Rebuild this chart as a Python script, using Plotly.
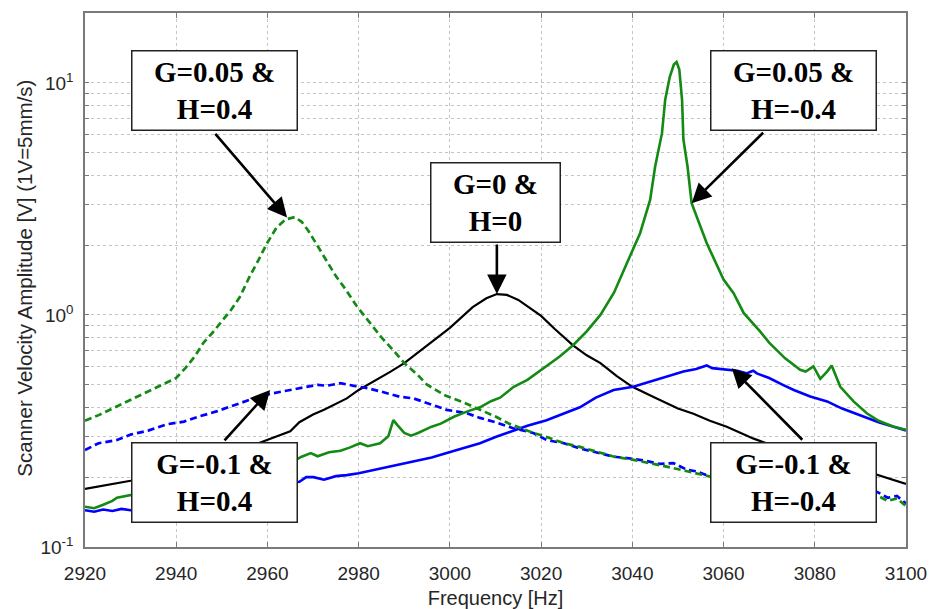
import numpy as np
import plotly.graph_objects as go

# ---------------- data ----------------
# G=0 & H=0 (black, solid)
freq_g0_h0 = [2920, 2925, 2930, 2935, 2940, 2945, 2950, 2955, 2960, 2962.8, 2965, 2967, 2970, 2972.4,
              2975, 2977.4, 2980, 2984, 2987, 2990, 2995, 3000, 3005, 3008, 3010.3, 3012.5, 3015, 3018,
              3020, 3023, 3027, 3030, 3033, 3036.6, 3040, 3045, 3050, 3053.4, 3057, 3060.7, 3063, 3066.6,
              3070, 3075, 3080, 3085, 3090, 3093.6, 3097, 3100]
amp_g0_h0 = [0.178, 0.185, 0.193, 0.203, 0.214, 0.228, 0.245, 0.266, 0.29, 0.305, 0.315, 0.345, 0.372, 0.39,
             0.415, 0.437, 0.475, 0.525, 0.57, 0.62, 0.74, 0.88, 1.08, 1.18, 1.23, 1.22, 1.16, 1.06,
             0.99, 0.87, 0.74, 0.67, 0.62, 0.545, 0.49, 0.44, 0.395, 0.375, 0.35, 0.33, 0.315, 0.293,
             0.277, 0.262, 0.247, 0.232, 0.216, 0.205, 0.195, 0.187]

# G=0.05 & H=-0.4 (green, solid)
freq_g005_hm04 = [2920, 2922, 2924, 2926, 2927, 2929, 2931, 2933, 2935, 2937, 2940, 2942, 2945, 2947,
                  2950, 2952, 2955, 2957, 2960, 2962, 2964,
                  2966, 2967.5, 2969.5, 2971, 2973.5, 2976, 2978, 2980.3, 2982, 2984.7, 2986.5, 2987.6,
                  2988.5, 2990, 2991.5, 2993, 2996, 2998, 3001, 3004, 3006.6, 3009, 3011, 3014, 3017,
                  3020, 3024, 3027, 3030, 3033, 3036, 3038.8, 3041.7, 3043.9, 3045, 3046.5, 3047.2,
                  3048.2, 3049.1, 3049.7, 3050.3, 3050.9, 3051.2, 3052.1, 3053, 3056.3, 3060, 3062.2,
                  3064.4, 3068, 3070, 3073.5, 3076.8, 3078, 3079.7, 3081.2, 3082.7, 3083.7, 3085.6,
                  3088.5, 3091.4, 3094, 3097.3, 3100]
amp_g005_hm04 = [0.149, 0.147, 0.152, 0.158, 0.163, 0.166, 0.168, 0.172, 0.175, 0.174, 0.183, 0.181, 0.192, 0.19,
                 0.2, 0.198, 0.21, 0.207, 0.22, 0.218, 0.232,
                 0.236, 0.245, 0.254, 0.246, 0.256, 0.26, 0.268, 0.28, 0.272, 0.28, 0.3, 0.352,
                 0.335, 0.31, 0.302, 0.31, 0.33, 0.34, 0.365, 0.385, 0.4, 0.425, 0.44, 0.49, 0.525,
                 0.58, 0.66, 0.74, 0.85, 1.0, 1.25, 1.67, 2.25, 3.13, 4.36, 6.07, 8.45,
                 10.6, 12.0, 12.3, 11.4, 8.45, 5.7, 4.36, 3.03, 2.04, 1.42, 1.24,
                 1.02, 0.85, 0.76, 0.65, 0.58, 0.57, 0.6, 0.53, 0.57, 0.606, 0.49,
                 0.424, 0.377, 0.35, 0.33, 0.32]

# G=-0.1 & H=-0.4 (blue, solid)
freq_gm01_hm04 = [2920, 2922, 2924, 2926, 2928, 2930, 2935, 2940, 2945, 2950, 2955, 2960, 2964, 2967,
                  2968.5, 2970.1, 2972.4, 2975, 2977.4, 2980, 2984.7, 2988, 2992, 2996, 2999.3, 3003,
                  3006.6, 3010, 3013.9, 3017, 3021.2, 3025, 3028.5, 3032, 3035.9, 3040.2, 3044.6, 3046.1,
                  3049, 3051.2, 3054, 3056.3, 3057.5, 3060.7, 3063, 3065, 3066.5, 3067.3, 3070, 3073,
                  3075.4, 3079, 3082.7, 3086, 3090, 3094, 3097.3, 3100]
amp_gm01_hm04 = [0.144, 0.142, 0.145, 0.143, 0.146, 0.144, 0.148, 0.153, 0.16, 0.167, 0.175, 0.183, 0.188, 0.191,
                 0.2, 0.2, 0.195, 0.202, 0.204, 0.208, 0.218, 0.225, 0.233, 0.243, 0.254, 0.266,
                 0.28, 0.298, 0.318, 0.333, 0.352, 0.375, 0.4, 0.44, 0.475, 0.49, 0.52, 0.53,
                 0.555, 0.57, 0.585, 0.606, 0.59, 0.58, 0.575, 0.56, 0.575, 0.56, 0.535, 0.5,
                 0.475, 0.445, 0.424, 0.395, 0.37, 0.345, 0.33, 0.318]

# G=0.05 & H=0.4 (green, dashed)
freq_g005_h04 = [2920, 2923, 2926, 2929, 2932, 2935, 2938, 2940, 2942, 2944, 2946, 2948, 2950, 2952,
                 2954, 2956, 2958, 2960, 2962, 2964, 2966, 2967.5, 2969, 2971, 2973, 2975, 2977, 2979.6,
                 2982, 2985, 2988, 2990, 2993, 2995, 2999, 3003, 3006, 3010, 3013, 3015.4, 3018.3,
                 3021.2, 3025, 3028.5, 3032, 3036, 3040, 3044, 3048, 3052, 3055, 3060, 3065, 3070,
                 3075, 3080, 3085, 3090, 3093.6, 3096, 3098, 3100]
amp_g005_h04 = [0.35, 0.37, 0.395, 0.42, 0.45, 0.48, 0.51, 0.535, 0.59, 0.66, 0.76, 0.84, 0.94, 1.05,
                1.2, 1.45, 1.72, 2.05, 2.38, 2.58, 2.64, 2.52, 2.3, 1.98, 1.7, 1.47, 1.3, 1.09,
                0.95, 0.8, 0.69, 0.62, 0.55, 0.5, 0.45, 0.42, 0.395, 0.365, 0.34, 0.325, 0.31,
                0.298, 0.28, 0.27, 0.258, 0.245, 0.238, 0.23, 0.221, 0.212, 0.205, 0.195, 0.188, 0.182,
                0.178, 0.174, 0.17, 0.168, 0.167, 0.158, 0.162, 0.15]

# G=-0.1 & H=0.4 (blue, dashed)
freq_gm01_h04 = [2920, 2923, 2927, 2930, 2934, 2938, 2941.7, 2945, 2949, 2952, 2956, 2960, 2963, 2967,
                 2971, 2973, 2976, 2979, 2982, 2985, 2989, 2992, 2996, 2999.3, 3003.7, 3006.6, 3010,
                 3013.9, 3018.3, 3021.2, 3025, 3028.5, 3032, 3035.9, 3040, 3043, 3046, 3049, 3052,
                 3054, 3056, 3060, 3065, 3070, 3075, 3080, 3085, 3088, 3091, 3093.6, 3096, 3098, 3100]
amp_gm01_h04 = [0.262, 0.28, 0.289, 0.305, 0.318, 0.338, 0.347, 0.365, 0.385, 0.405, 0.43, 0.455, 0.467, 0.485,
                0.5, 0.495, 0.508, 0.495, 0.483, 0.467, 0.444, 0.437, 0.41, 0.39, 0.377, 0.36, 0.345,
                0.325, 0.31, 0.289, 0.28, 0.266, 0.256, 0.245, 0.24, 0.235, 0.228, 0.23, 0.215,
                0.212, 0.205, 0.2, 0.193, 0.188, 0.183, 0.179, 0.176, 0.178, 0.172, 0.173, 0.163, 0.166, 0.154]

# axis ticks
x_tick_vals = [2920, 2940, 2960, 2980, 3000, 3020, 3040, 3060, 3080, 3100]
x_tick_text = ["2920", "2940", "2960", "2980", "3000", "3020", "3040", "3060", "3080", "3100"]
y_decades = [0.1, 1, 10]
y_decade_text = ["10<sup>-1</sup>", "10<sup>0</sup>", "10<sup>1</sup>"]

# annotation labels
label_texts = ["G=0.05 &<br>H=0.4", "G=0 &<br>H=0", "G=0.05 &<br>H=-0.4",
               "G=-0.1 &<br>H=0.4", "G=-0.1 &<br>H=-0.4"]
y_title_text = "Scanner Velocity Amplitude [V] (1V=5mm/s)"
x_title_text = "Frequency [Hz]"

# ---------------- figure ----------------
GREEN = "#138a13"
BLUE = "#0000ff"
SANS = "Liberation Sans, Arial, sans-serif"

fig = go.Figure()
fig.add_trace(go.Scatter(x=freq_g0_h0, y=amp_g0_h0, mode="lines",
                         line=dict(color="black", width=2.2)))
fig.add_trace(go.Scatter(x=freq_gm01_hm04, y=amp_gm01_hm04, mode="lines",
                         line=dict(color=BLUE, width=2.6)))
fig.add_trace(go.Scatter(x=freq_gm01_h04, y=amp_gm01_h04, mode="lines",
                         line=dict(color=BLUE, width=2.7, dash="7px,4px")))
fig.add_trace(go.Scatter(x=freq_g005_h04, y=amp_g005_h04, mode="lines",
                         line=dict(color=GREEN, width=2.7, dash="7px,4px")))
fig.add_trace(go.Scatter(x=freq_g005_hm04, y=amp_g005_hm04, mode="lines",
                         line=dict(color=GREEN, width=2.6)))

# y grid: decades plus 2..9 minor lines
y_grid_vals = []
y_grid_text = []
for d in y_decades:
    for m in range(1, 10):
        v = round(d * m, 6)
        if v > 20:
            break
        y_grid_vals.append(v)
        y_grid_text.append(y_decade_text[y_decades.index(d)] if m == 1 else " ")
y_grid_vals.append(20)
y_grid_text.append(" ")

# label boxes (centre in data units) and arrows (head in data units, tail offset in px)
box_centres = [(2948.5, 9.3), (3010.0, 3.06), (3075.3, 9.3), (2948.5, 0.19), (3075.3, 0.19)]
box_widths = [160, 124, 160, 160, 160]
arrow_heads = [(2964.3, 2.63), (3010.3, 1.23), (3053.0, 3.03), (2960.6, 0.475), (3061.8, 0.589)]
arrow_tails = [(-73, -85), (0, -51), (73, -72), (-47, 52), (72, 73)]

annotations = []
for (hx, hy), (tx, ty) in zip(arrow_heads, arrow_tails):
    annotations.append(dict(x=hx, y=np.log10(hy), xref="x", yref="y", text="",
                            showarrow=True, ax=tx, ay=ty, axref="pixel", ayref="pixel",
                            arrowhead=2, arrowsize=1.5, arrowwidth=2.6, arrowcolor="black",
                            standoff=0, startstandoff=0))
for txt, (cx, cy), w in zip(label_texts, box_centres, box_widths):
    annotations.append(dict(x=cx, y=np.log10(cy), xref="x", yref="y",
                            text="<b>" + txt + "</b>", showarrow=False,
                            font=dict(family="Liberation Serif, Times New Roman, serif", size=29, color="black"),
                            bgcolor="white", bordercolor="#222", borderwidth=1.5, borderpad=2,
                            width=w, height=74, align="center", valign="middle"))
# y-axis title as a rotated annotation (placed like the reference)
annotations.append(dict(x=-0.074, y=0.503, xref="paper", yref="paper", text=y_title_text,
                        textangle=-90, showarrow=False, xanchor="center", yanchor="middle",
                        font=dict(family=SANS, size=20.5, color="#262626")))

axis_font = dict(family=SANS, size=19, color="#262626")

fig.update_layout(
    width=935, height=609,
    margin=dict(l=85, r=29, t=13, b=62, autoexpand=False),
    paper_bgcolor="white", plot_bgcolor="white",
    showlegend=False,
    annotations=annotations,
    xaxis=dict(range=[2920, 3100], tickvals=x_tick_vals, ticktext=x_tick_text, automargin=False,
               showgrid=True, gridcolor="#c4c4c4", griddash="dot", gridwidth=1,
               showline=True, linecolor="#7a7a7a", linewidth=1.5, mirror="ticks",
               ticks="inside", ticklen=5, tickcolor="#7a7a7a",
               tickfont=axis_font, ticklabelstandoff=8, zeroline=False,
               title=dict(text=x_title_text, font=dict(family=SANS, size=20, color="#262626"), standoff=8)),
    yaxis=dict(type="log", range=[-1, np.log10(20)], tickvals=y_grid_vals, ticktext=y_grid_text,
               automargin=False,
               showgrid=True, gridcolor="#c4c4c4", griddash="dot", gridwidth=1,
               showline=True, linecolor="#7a7a7a", linewidth=1.5, mirror="ticks",
               ticks="inside", ticklen=4, tickcolor="#7a7a7a",
               tickfont=axis_font, ticklabelstandoff=6, zeroline=False),
)

fig.write_html("out.html", config={"displayModeBar": False},
               post_script="document.body.style.margin='0';")
